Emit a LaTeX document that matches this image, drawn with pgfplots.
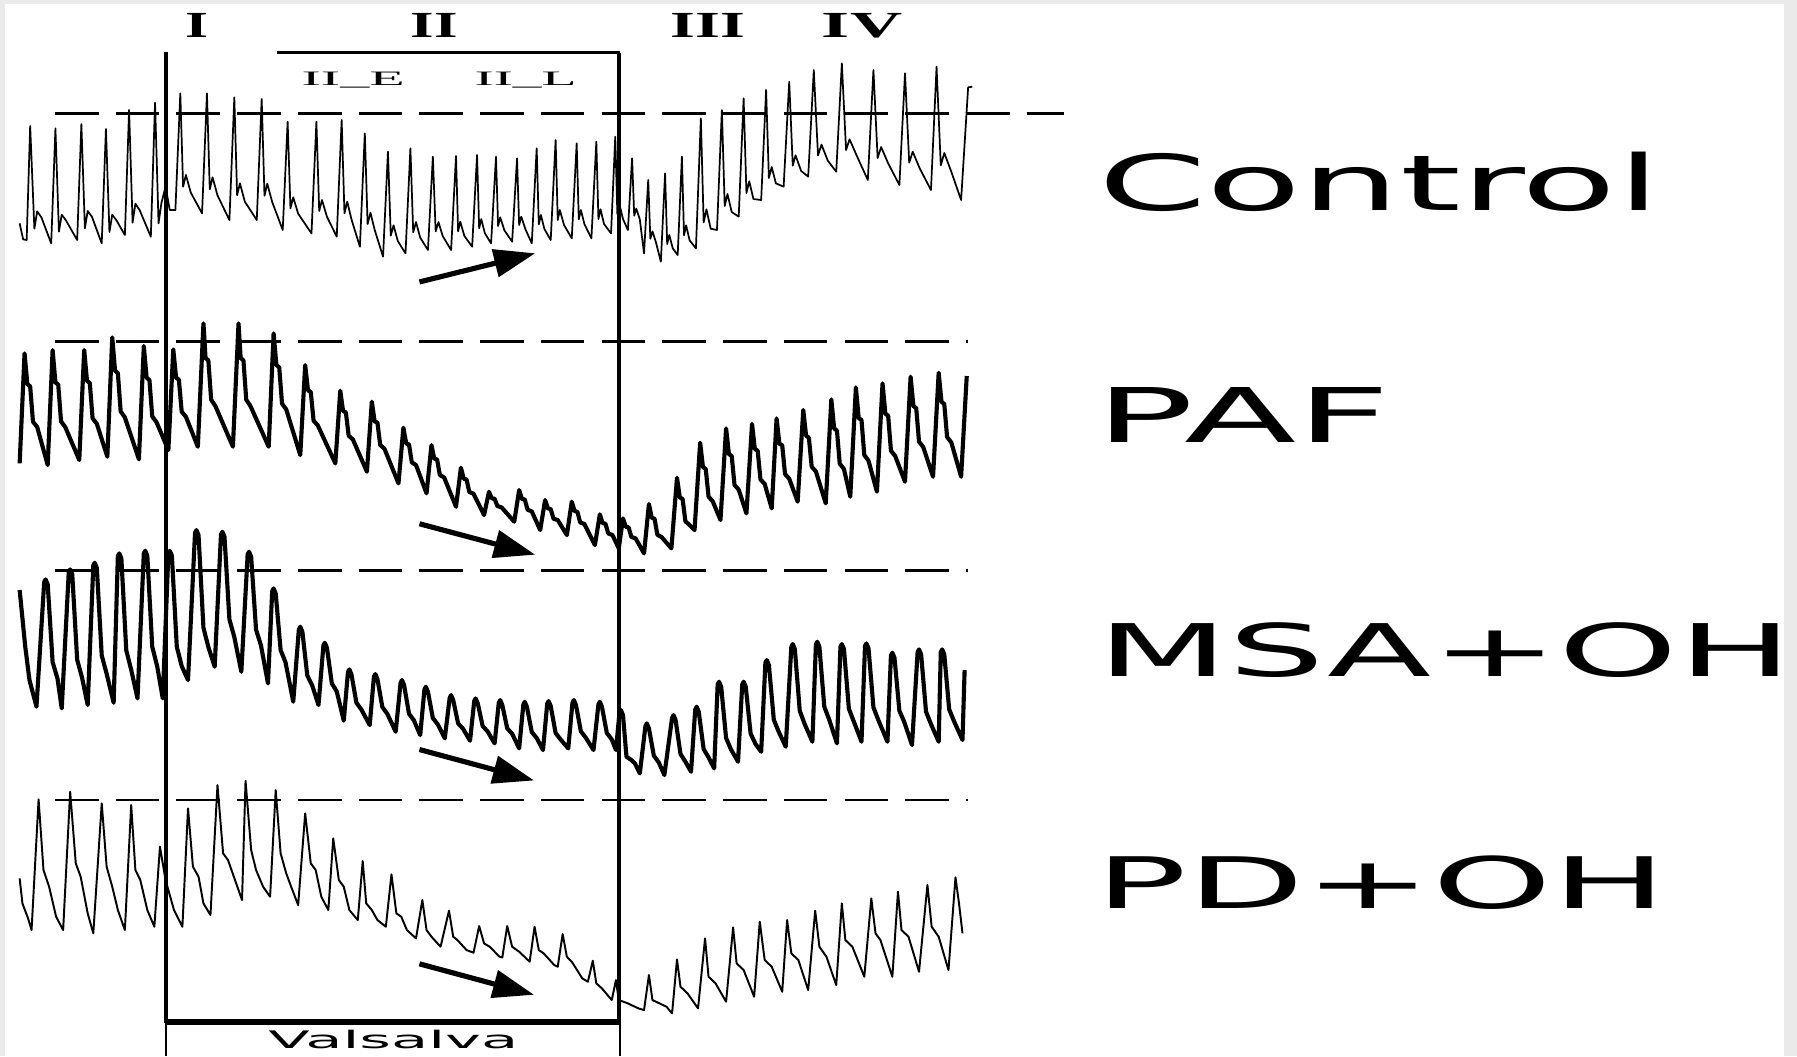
\documentclass[border=0pt]{standalone}
\usepackage{pgfplots}
\pgfplotsset{compat=1.18}
\usepackage{fontspec}
\setmainfont{Liberation Serif}
\newfontfamily\labfont{DejaVu Sans}
\usepackage{graphicx}
\usetikzlibrary{arrows.meta}
\definecolor{framegray}{RGB}{234,234,234}
\begin{document}
\begin{tikzpicture}
\begin{axis}[width=1568pt,height=921pt,scale only axis,xmin=0,xmax=1568,ymin=0,ymax=921,
  y dir=reverse,hide axis,clip=false]
\fill[framegray] (axis cs:0,0) rectangle (axis cs:1568,921);
\fill[white] (axis cs:4.5,3.5) rectangle (axis cs:1557,921);
% reference dashed lines
\draw[line width=2.3pt, dash pattern=on 38pt off 15pt] (axis cs:48,99) -- (axis cs:928,99);
\draw[line width=2.3pt, dash pattern=on 38pt off 15pt] (axis cs:48,298) -- (axis cs:845,298);
\draw[line width=2.3pt, dash pattern=on 38pt off 15pt] (axis cs:48,498) -- (axis cs:845,498);
\draw[line width=2.3pt, dash pattern=on 38pt off 15pt] (axis cs:48,698) -- (axis cs:845,698);
% Control
\addplot[black, line width=1.5pt, line join=round, x filter/.expression={x/1.6336}, y filter/.expression={y/3.438}] coordinates {
(28,670)(33,718)
(38,720)(43,378)(49,686)(53,634)(59,652)
(73,730)(79,385)(84,695)(88,644)(94,661)
(110,720)(116,372)(121,685)(125,633)(131,650)
(145,730)(151,387)(156,696)(160,644)(166,661)
(178,705)(184,330)(189,668)(193,611)(199,630)
(215,710)(221,308)(226,670)(230,610)(236,560)(242,630)
(250,630)(257,280)(261,560)(265,525)(272,578)
(288,640)(295,280)(299,568)(303,532)(310,586)
(327,660)(334,292)(338,586)(342,550)(349,605)
(366,660)(373,297)(377,587)(381,551)(388,606)
(403,690)(410,365)(414,625)(418,592)(425,641)
(444,700)(451,365)(455,633)(459,600)(466,650)
(480,710)(487,360)(491,640)(495,605)(501,658)
(513,740)(520,400)(524,672)(528,638)(534,689)
(546,770)(553,455)(557,707)(561,676)(567,723)
(578,760)(585,445)(589,697)(593,666)(599,713)
(610,750)(617,470)(621,694)(625,666)(631,708)
(643,750)(650,468)(653,694)(656,665)(662,708)
(673,740)(680,465)(683,685)(686,657)(691,699)
(700,730)(707,470)(710,678)(713,652)(719,691)
(730,725)(737,475)(740,675)(743,650)(749,688)
(758,730)(765,445)(768,673)(771,645)(776,687)
(785,720)(792,420)(795,660)(798,630)(804,675)
(815,715)(822,430)(825,658)(828,630)(833,672)
(843,715)(850,425)(853,657)(856,628)(861,672)
(871,700)(877,410)(880,642)(883,613)(888,657)
(895,690)(901,475)(904,647)(907,626)(912,658)
(918,760)(924,540)(927,716)(930,694)(935,727)
(942,785)(948,520)(951,732)(954,705)(959,745)
(966,765)(972,470)(975,706)(978,676)(983,721)
(992,745)(999,355)(1003,667)(1007,628)(1013,686)
(1022,690)(1029,330)(1033,618)(1037,582)(1043,636)
(1053,650)(1060,295)(1064,579)(1068,544)(1074,597)
(1085,600)(1092,270)(1096,534)(1100,501)(1106,550)
(1117,560)(1125,245)(1130,497)(1134,466)(1142,513)
(1152,530)(1160,210)(1166,466)(1171,434)(1180,482)
(1192,515)(1200,190)(1206,450)(1211,418)(1221,466)
(1237,540)(1245,210)(1251,474)(1256,441)(1266,490)
(1282,555)(1290,220)(1296,488)(1301,455)(1311,505)
(1327,570)(1335,200)(1341,496)(1346,459)(1356,515)
(1370,600)(1380,262)(1386,260)
};
% PAF
\addplot[black, line width=3.6pt, line join=round, x filter/.expression={x/1.6336}, y filter/.expression={261.8+y/3.438}] coordinates {
(28,490)(35,160)(39,252)(43,259)(47,365)(53,381)
(68,495)(75,150)(79,247)(83,254)(87,364)(93,381)
(113,480)(120,150)(124,242)(128,249)(132,355)(138,371)
(153,470)(160,112)(164,212)(168,219)(172,334)(178,352)
(198,478)(205,138)(209,233)(213,240)(217,349)(223,366)
(240,450)(247,148)(251,233)(255,239)(259,335)(265,350)
(282,440)(290,70)(293,174)(297,181)(301,299)(307,318)
(332,440)(340,70)(343,174)(347,181)(351,299)(357,318)
(383,440)(390,100)(394,195)(398,202)(402,311)(408,328)
(428,465)(435,195)(439,271)(443,276)(447,362)(453,376)
(478,490)(485,272)(489,333)(493,337)(497,407)(503,418)
(523,515)(530,305)(534,364)(538,368)(542,435)(548,446)
(568,550)(575,383)(579,430)(583,433)(587,487)(593,495)
(608,580)(615,435)(619,476)(623,478)(627,525)(633,532)
(650,620)(657,503)(661,536)(665,538)(669,576)(675,581)
(690,645)(697,575)(701,595)(705,596)(709,618)(715,622)
(733,665)(740,570)(744,597)(748,598)(752,629)(758,634)
(770,690)(777,600)(781,625)(785,627)(789,656)(795,660)
(808,705)(815,605)(819,633)(823,635)(827,667)(833,672)
(848,735)(855,643)(859,669)(863,671)(867,700)(873,705)
(882,745)(888,655)(892,680)(896,682)(900,711)(906,715)
(918,760)(925,612)(929,653)(933,656)(937,704)(943,711)
(957,745)(965,533)(969,592)(973,597)(977,664)(983,675)
(990,690)(998,428)(1002,501)(1006,507)(1010,590)(1016,604)
(1027,660)(1035,385)(1039,462)(1043,468)(1047,555)(1053,569)
(1064,640)(1072,372)(1076,447)(1080,452)(1084,538)(1090,552)
(1100,625)(1107,355)(1111,431)(1115,436)(1119,522)(1125,536)
(1137,605)(1145,330)(1149,407)(1153,413)(1157,500)(1163,514)
(1177,610)(1185,298)(1189,385)(1193,392)(1197,491)(1203,507)
(1212,590)(1220,262)(1224,354)(1228,360)(1232,465)(1238,482)
(1250,575)(1258,250)(1262,341)(1266,347)(1270,452)(1276,468)
(1290,545)(1298,230)(1302,318)(1306,324)(1310,425)(1316,441)
(1330,530)(1338,218)(1342,305)(1346,312)(1350,411)(1356,427)
(1370,530)(1378,228)
};
% MSA+OH
\addplot[black, line width=3.6pt, line join=round, x filter/.expression={x/1.6336}, y filter/.expression={462.5+y/3.438}] coordinates {
(28,180)(36,350)(42,450)
(52,530)(63,156)(65,148)(68,163)(75,396)(82,446)
(88,535)(98,126)(100,118)(103,133)(110,389)(117,443)
(125,525)(133,106)(135,98)(138,113)(145,376)(152,431)
(162,518)(168,78)(170,70)(173,85)(180,361)(187,419)
(196,505)(205,70)(207,62)(210,77)(217,350)(224,408)
(232,505)(240,70)(242,62)(245,77)(252,350)(259,408)
(268,450)(278,8)(280,0)(283,15)(290,293)(297,351)
(306,410)(315,13)(317,5)(320,20)(327,268)(334,321)
(344,425)(353,73)(355,65)(358,80)(365,299)(372,346)
(382,460)(388,183)(390,175)(393,190)(400,360)(407,397)
(418,515)(426,298)(428,290)(431,305)(438,436)(445,466)
(454,525)(461,346)(463,338)(466,353)(473,460)(480,484)
(490,572)(496,426)(498,418)(501,433)(508,518)(515,538)
(527,585)(533,440)(535,432)(538,447)(545,531)(552,551)
(564,605)(571,458)(573,450)(576,465)(583,551)(590,571)
(599,615)(605,478)(607,470)(610,485)(617,564)(624,583)
(634,625)(641,503)(643,495)(646,510)(653,580)(660,596)
(670,632)(676,513)(678,505)(681,520)(688,588)(695,604)
(705,640)(711,518)(713,510)(716,525)(723,595)(730,611)
(740,655)(746,523)(748,515)(751,530)(758,606)(765,624)
(774,660)(780,521)(782,513)(785,528)(792,609)(799,628)
(810,655)(816,518)(818,510)(821,525)(828,604)(835,623)
(846,660)(853,523)(855,515)(858,530)(865,609)(872,628)
(878,660)(883,548)(885,540)(888,555)(893,680)(900,690)(905,700)
(912,730)(920,588)(922,580)(925,595)(932,677)(939,697)
(947,735)(958,563)(960,555)(963,570)(970,672)(977,695)
(985,725)(991,538)(993,530)(996,545)(1003,657)(1010,682)
(1018,715)(1023,463)(1025,455)(1028,470)(1035,624)(1042,658)
(1052,695)(1058,463)(1060,455)(1063,470)(1070,611)(1077,642)
(1085,665)(1091,398)(1093,390)(1096,405)(1103,569)(1110,605)
(1120,650)(1128,350)(1130,342)(1133,357)(1140,542)(1147,582)
(1158,635)(1163,343)(1165,335)(1168,350)(1175,530)(1182,569)
(1193,640)(1198,350)(1200,342)(1203,357)(1210,536)(1217,574)
(1228,635)(1233,348)(1235,340)(1238,355)(1245,532)(1252,570)
(1265,635)(1270,376)(1272,368)(1275,383)(1282,542)(1289,576)
(1300,645)(1308,366)(1310,358)(1313,373)(1320,545)(1327,582)
(1338,635)(1341,366)(1343,358)(1346,373)(1353,538)(1360,574)
(1372,630)(1375,420)
};
% PD+OH
\addplot[black, line width=1.7pt, line join=round, x filter/.expression={x/1.6336}, y filter/.expression={671.9+y/3.438}] coordinates {
(28,325)(32,400)(40,445)(45,480)
(55,88)(62,300)(70,350)(80,440)(90,480)
(100,65)(108,280)(115,320)(125,430)(133,490)
(145,100)(152,290)(160,350)(168,420)(178,480)
(187,105)(193,300)(200,330)(210,420)(220,470)
(228,230)(236,330)(248,420)(260,470)
(268,115)(275,290)(283,320)(290,400)(300,435)
(310,45)(318,250)(325,270)(335,330)(345,390)
(350,32)(358,240)(365,300)(375,350)(385,380)
(393,60)(400,250)(408,310)(415,350)(425,405)
(435,130)(443,280)(450,300)(458,380)(468,420)
(475,205)(483,330)(490,350)(498,420)(510,450)
(517,273)(522,400)(530,420)(538,450)(550,470)
(558,313)(565,430)(572,440)(580,480)(593,505)
(602,390)(608,480)(615,500)(628,530)
(640,422)(646,500)(652,510)(665,540)(675,548)
(683,468)(690,520)(698,530)(712,560)(716,562)
(723,468)(730,530)(740,545)(755,575)
(762,470)(768,540)(775,550)(790,585)(795,590)
(802,492)(808,560)(815,575)(830,625)(838,635)
(845,572)(850,640)(858,655)(872,690)
(878,630)(882,690)(895,700)(910,715)(918,720)
(925,615)(930,690)(940,700)(950,710)(958,730)
(965,568)(970,650)(980,670)(995,715)
(1005,505)(1010,620)(1020,640)(1035,695)
(1045,472)(1050,580)(1060,600)(1075,680)
(1083,455)(1090,570)(1100,590)(1115,665)
(1122,450)(1128,550)(1138,570)(1152,660)
(1162,422)(1168,530)(1178,560)(1192,645)
(1200,400)(1205,510)(1215,530)(1232,620)
(1242,385)(1248,490)(1255,510)(1272,620)
(1280,365)(1285,480)(1295,500)(1310,605)
(1322,345)(1328,470)(1338,500)(1352,600)
(1362,322)(1367,400)(1372,490)
};
% Valsalva box and phase markers
\draw[line width=3.4pt] (axis cs:145,45) -- (axis cs:145,891) -- (axis cs:540,891) -- (axis cs:540,46);
\draw[line width=2.2pt] (axis cs:242,46) -- (axis cs:541,46);
\draw[line width=1.8pt] (axis cs:145,921) -- (axis cs:145,893.5) -- (axis cs:541,893.5) -- (axis cs:541,921);
% arrows
\draw[line width=4.5pt, -{Triangle[length=36pt,width=24pt]}] (axis cs:366,246) -- (axis cs:467,221);
\draw[line width=4.5pt, -{Triangle[length=36pt,width=24pt]}] (axis cs:366,457) -- (axis cs:467,484);
\draw[line width=4.5pt, -{Triangle[length=36pt,width=24pt]}] (axis cs:366,654) -- (axis cs:466,681);
\draw[line width=4.5pt, -{Triangle[length=36pt,width=24pt]}] (axis cs:366,841) -- (axis cs:466,868);
% phase labels
\node[anchor=base west, inner sep=0pt] at (axis cs:162,32.6) {\resizebox{20pt}{21pt}{\bfseries I}};
\node[anchor=base west, inner sep=0pt] at (axis cs:358,32.6) {\resizebox{41pt}{21pt}{\bfseries II}};
\node[anchor=base west, inner sep=0pt] at (axis cs:585,32.6) {\resizebox{65pt}{21pt}{\bfseries III}};
\node[anchor=base west, inner sep=0pt] at (axis cs:717,32.6) {\resizebox{70pt}{21pt}{\bfseries IV}};
\node[anchor=base west, inner sep=0pt] at (axis cs:263,74.2) {\resizebox{90pt}{11.7pt}{II\_E}};
\node[anchor=base west, inner sep=0pt] at (axis cs:414,74.2) {\resizebox{89pt}{11.7pt}{II\_L}};
% group labels
\node[anchor=base west, inner sep=0pt] at (axis cs:958,184) {\resizebox{490pt}{51pt}{\labfont Control}};
\node[anchor=base west, inner sep=0pt] at (axis cs:956,386) {\resizebox{257pt}{48pt}{\labfont PAF}};
\node[anchor=base west, inner sep=0pt] at (axis cs:957,590) {\resizebox{607pt}{47pt}{\labfont MSA+OH}};
\node[anchor=base west, inner sep=0pt] at (axis cs:956,793) {\resizebox{498pt}{46pt}{\labfont PD+OH}};
\node[anchor=base west, inner sep=0pt] at (axis cs:234,915) {\resizebox{218pt}{16pt}{\labfont Valsalva}};
\end{axis}
\end{tikzpicture}
\end{document}
